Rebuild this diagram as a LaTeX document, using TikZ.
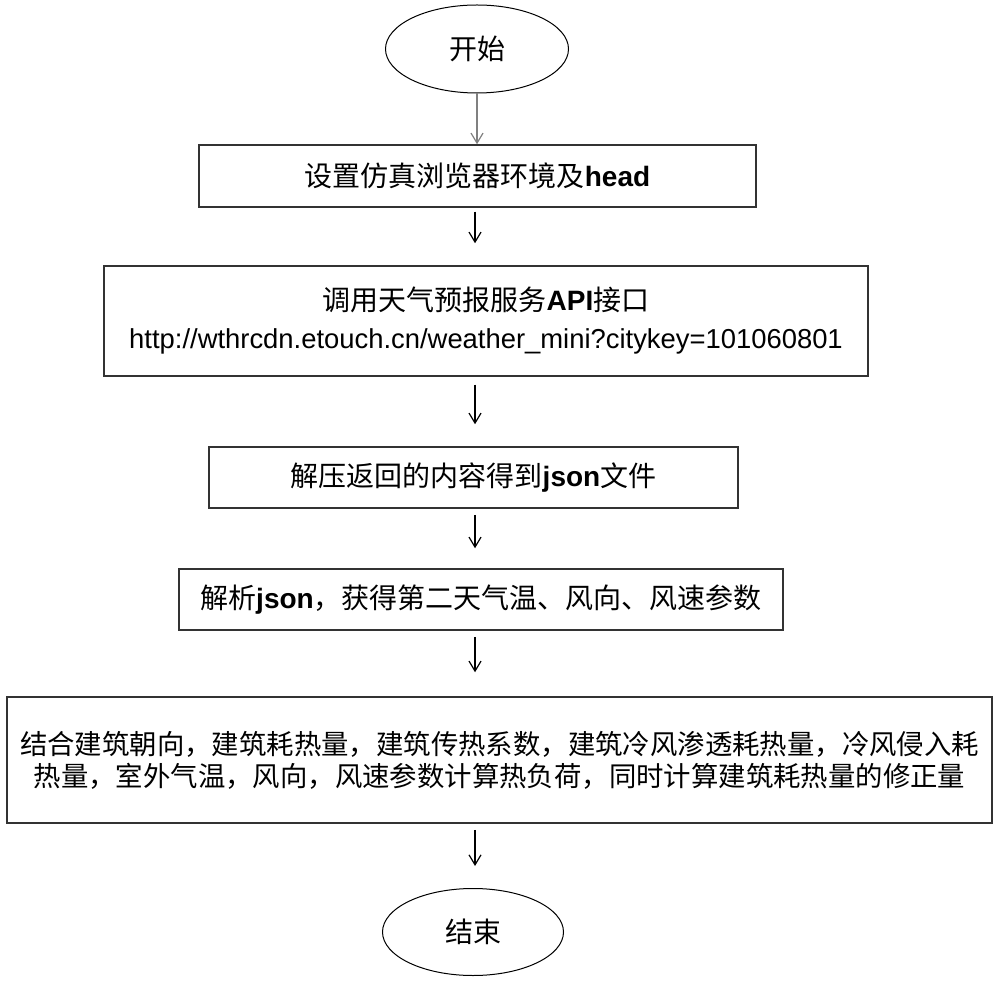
\documentclass[tikz,border=0pt]{standalone}
\usepackage{fontspec}
\setmainfont{Liberation Sans}
\newfontfamily\cjk{Noto Sans CJK SC}
\usetikzlibrary{shapes.geometric,arrows.meta}

\begin{document}
\begin{tikzpicture}[x=0.5pt, y=-0.5pt,
  block/.style={draw=black!80, line width=0.75pt, inner sep=0pt, align=center, font=\fontsize{14}{19}\selectfont},
  term/.style={draw, ellipse, line width=0.5pt, inner sep=0pt, font=\fontsize{14}{19}\selectfont\cjk},
  arr/.style={-{Straight Barb[length=5pt,width=6pt]}, line width=0.6pt},
  ]
  \useasboundingbox (0,0) rectangle (1000,983);
  \coordinate (axis) at (475,0);
  \node[term, minimum width=91.5pt, minimum height=44pt] (start) at (477,49) {开始};
  \node[block, minimum width=278.5pt, minimum height=31pt] (b1) at (477.5,176) {{\cjk 设置仿真浏览器环境及}\textbf{head}};
  \node[block, minimum width=382pt, minimum height=55pt] (b2) at (486,321) {{\cjk 调用天气预报服务}\textbf{API}{\cjk 接口}\\{\fontsize{13.7}{19}\selectfont http://wthrcdn.etouch.cn/weather\_mini?citykey=101060801}};
  \node[block, minimum width=264.5pt, minimum height=30.5pt] (b3) at (473.5,477.5) {{\cjk 解压返回的内容得到}\textbf{json}{\cjk 文件}};
  \node[block, minimum width=302pt, minimum height=30.5pt] (b4) at (481,599.5) {{\cjk 解析}\textbf{json}{\cjk ，获得第二天气温、风向、风速参数}};
  \node[block, minimum width=492.5pt, minimum height=63pt, font=\fontsize{13.7}{16}\selectfont\cjk] (b5) at (499.5,760) {结合建筑朝向，建筑耗热量，建筑传热系数，建筑冷风渗透耗热量，冷风侵入耗\\热量，室外气温，风向，风速参数计算热负荷，同时计算建筑耗热量的修正量};
  \node[term, minimum width=90.5pt, minimum height=43.5pt] (end) at (473,932) {结束};

  \draw[arr, draw=gray] (start.south) -- (start.south |- b1.north);
  \draw[arr, shorten <=2pt, shorten >=11pt] (axis |- b1.south) -- (axis |- b2.north);
  \draw[arr, shorten <=4pt, shorten >=11pt] (axis |- b2.south) -- (axis |- b3.north);
  \draw[arr, shorten <=3pt, shorten >=10pt] (axis |- b3.south) -- (axis |- b4.north);
  \draw[arr, shorten <=3pt, shorten >=12pt] (axis |- b4.south) -- (axis |- b5.north);
  \draw[arr, shorten <=3pt, shorten >=11pt] (axis |- b5.south) -- (axis |- end.north);
\end{tikzpicture}
\end{document}
